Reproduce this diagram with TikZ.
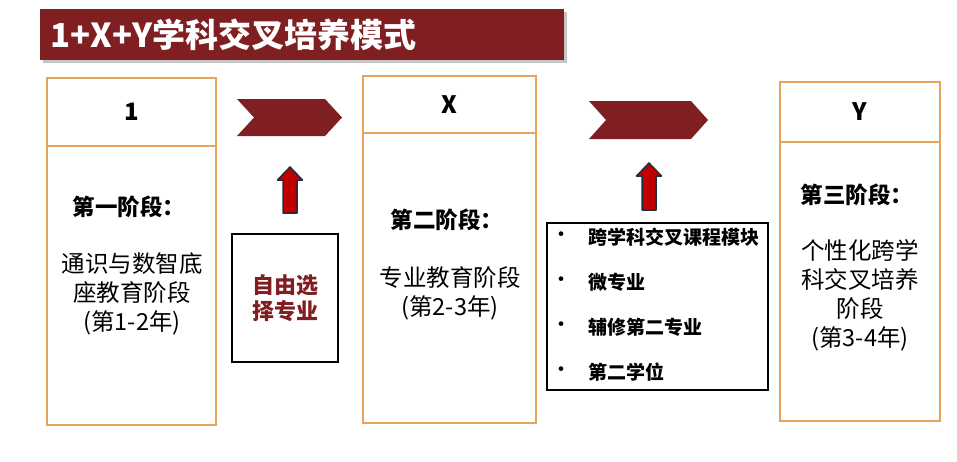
\documentclass[tikz,border=0pt]{standalone}
\usepackage{fontspec}
\setmainfont{Noto Sans CJK SC}
\usepackage{tikz}
\usetikzlibrary{positioning}
\usetikzlibrary{shadows}
\definecolor{darkRed}{HTML}{7F1F22}
\definecolor{boxOrange}{HTML}{E9A25C}
\definecolor{arrowRed}{HTML}{C00000}
\definecolor{arrowEdge}{HTML}{1F2D45}
\newcommand{\upArrow}[3]{\filldraw[fill=arrowRed,draw=arrowEdge,line width=1.5pt,line join=round] (#1-12.5,#2+13) -- (#1,#2) -- (#1+12.5,#2+13) -- (#1+7,#2+13) -- (#1+7,#3) -- (#1-7,#3) -- (#1-7,#2+13) -- cycle;}
\newcommand{\chevronShape}[4]{\fill[darkRed] (#1,#3) -- (#2-17,#3) -- (#2,{(#3+#4)/2}) -- (#2-17,#4) -- (#1,#4) -- (#1+17,{(#3+#4)/2}) -- cycle;}
\tikzset{
  titlebar/.style={fill=darkRed,text=white,anchor=north west,inner xsep=10pt,inner ysep=0pt,align=left,font=\fontsize{33}{38}\selectfont\bfseries,drop shadow={shadow xshift=2.5pt,shadow yshift=-2.5pt,opacity=.45}},
  headbox/.style={draw=boxOrange,line width=2pt,inner sep=0pt,outer sep=0pt,font=\fontsize{24}{28}\selectfont\bfseries},
  bodybox/.style={draw=boxOrange,line width=2pt,inner sep=0pt,outer sep=0pt},
  stagetitle/.style={font=\fontsize{22.5}{26}\selectfont\bfseries},
  stagetext/.style={align=center,font=\fontsize{23.5}{29}\selectfont},
  listbox/.style={draw=black,line width=2pt,inner sep=0pt},
  listitem/.style={anchor=west,inner sep=0pt,font=\fontsize{19}{22}\selectfont\bfseries},
}
\begin{document}
\begin{tikzpicture}[x=1pt,y=-1pt]
\useasboundingbox[fill=white] (0,0) rectangle (957,461);
\node[titlebar,text width=504pt,minimum height=51pt] (title) at (40,9) {1+X+Y学科交叉培养模式};

\node[headbox,minimum width=169pt,minimum height=68pt] (head1) at (131.5,112) {1};
\node[bodybox,minimum width=169pt,minimum height=279pt,below=0pt of head1] (body1) {};
\node[headbox,minimum width=173pt,minimum height=57pt] (headX) at (449.5,104.5) {X};
\node[bodybox,minimum width=173pt,minimum height=290pt,below=0pt of headX] (bodyX) {};
\node[headbox,minimum width=160pt,minimum height=60pt] (headY) at (859.5,112) {Y};
\node[bodybox,minimum width=160pt,minimum height=279pt,below=0pt of headY] (bodyY) {};

\node[stagetitle] (stage1) at (129,207) {第一阶段：};
\node[stagetext] (text1) at (132,294) {通识与数智底\\座教育阶段\\(第1-2年)};
\node[stagetitle] (stageX) at (447,220) {第二阶段：};
\node[stagetext] (textX) at (450,293.5) {专业教育阶段\\(第2-3年)};
\node[stagetitle] (stageY) at (857,195) {第三阶段：};
\node[stagetext] (textY) at (860,295) {个性化跨学\\科交叉培养\\阶段\\(第3-4年)};

\chevronShape{237}{342}{99}{136}
\chevronShape{589}{708}{101}{139}

\node[listbox,minimum width=106pt,minimum height=128pt,align=center,text=darkRed,font=\fontsize{22}{26}\selectfont\bfseries] (choice) at (285,298) {自由选\\择专业};
\upArrow{290}{167}{213}

\node[listbox,minimum width=221pt,minimum height=167pt] (list) at (657.5,306.5) {};
\foreach \txt [count=\i] in {跨学科交叉课程模块,微专业,辅修第二专业,第二学位}{
  \node[listitem] (item\i) at (588,192+45*\i) {\txt};
  \node[inner sep=0pt,font=\fontsize{22}{24}\selectfont] (dot\i) at (561,192+45*\i) {•};
}
\upArrow{649}{163}{210}
\end{tikzpicture}
\end{document}
